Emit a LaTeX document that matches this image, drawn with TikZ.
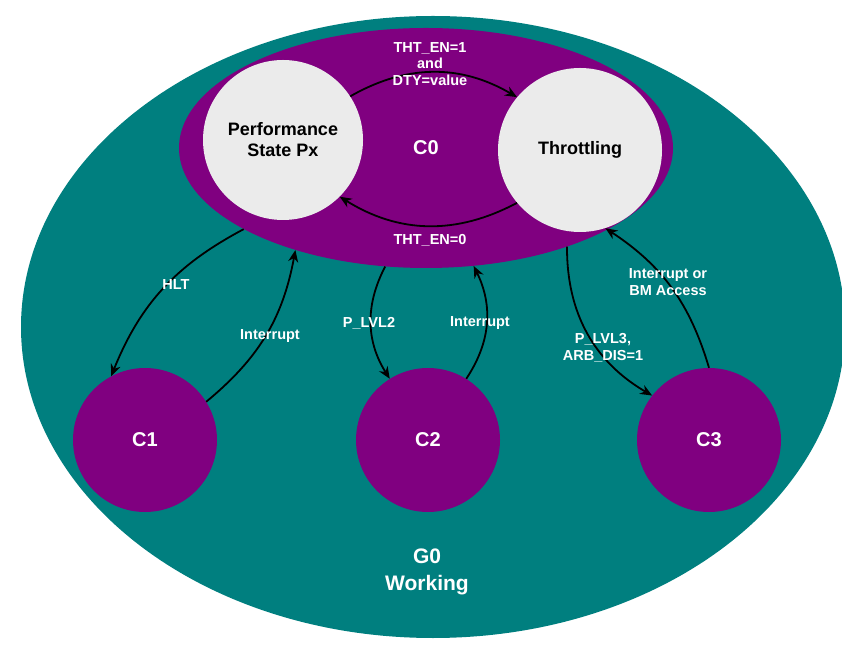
\documentclass[tikz,border=0pt]{standalone}
\usepackage{fontspec}
\setmainfont{Liberation Sans}
\usetikzlibrary{shapes.geometric,arrows.meta}
\definecolor{teal}{HTML}{007F7F}
\definecolor{purp}{HTML}{800080}
\definecolor{state}{HTML}{EBEBEB}
\tikzset{
  region/.style={ellipse, draw=none, inner sep=0pt},
  pstate/.style={circle, fill=state, minimum size=160pt, inner sep=0pt, align=center, font=\fontsize{18}{21}\selectfont\bfseries},
  cstate/.style={circle, fill=purp, minimum size=144pt, inner sep=0pt, text=white, font=\fontsize{20}{24}\selectfont\bfseries},
  trans/.style={draw=black, line width=1.8pt, -{Stealth[length=12pt,width=10pt]}},
  lab/.style={text=white, align=center, font=\fontsize{14.5}{16.5}\selectfont\bfseries},
}
\begin{document}
\begin{tikzpicture}[x=1pt,y=1pt]
  \useasboundingbox (0,0) rectangle (842,645);
  % regions
  \node[region, fill=teal, minimum width=824pt, minimum height=622pt] (g0) at (433,318) {};
  \node[region, fill=purp, minimum width=494pt, minimum height=240pt] (c0) at (426,497) {};
  \node[text=white, font=\fontsize{20}{24}\selectfont\bfseries] (c0lab) at (426,497) {C0};
  \node[lab, font=\fontsize{21}{27}\selectfont\bfseries] (g0lab) at (427,73) {G0\\Working};
  % states
  \node[pstate] (perf) at (283,505) {Performance\\State Px};
  \node[pstate, minimum size=164pt] (thr) at (580,495) {Throttling};
  \node[cstate] (c1) at (145,205) {C1};
  \node[cstate] (c2) at (428,205) {C2};
  \node[cstate] (c3) at (709,205) {C3};
  % transitions
  \draw[trans] (perf.33) to[bend left=30] (thr.140);
  \draw[trans] (thr.220) to[bend left=30] (perf.-45);
  \draw[trans] (c0.204) to[bend right=20] (c1.118);
  \draw[trans] (c1.32) to[bend right=20] (c0.218);
  \draw[trans] (c0.251) to[bend right=30] (c2.122);
  \draw[trans] (c2.58) to[bend right=30] (c0.292);
  \draw[trans] (c0.325) to[bend right=30] (c3.142);
  \draw[trans] (c3.90) to[bend right=20] (thr.288);
  % labels
  \node[lab] (l1) at (430,581) {THT\_EN=1\\and\\DTY=value};
  \node[lab] (l2) at (430,405) {THT\_EN=0};
  \node[lab] (l3) at (176,360) {HLT};
  \node[lab] (l4) at (270,309) {Interrupt};
  \node[lab] (l5) at (369,322) {P\_LVL2};
  \node[lab] (l6) at (480,322) {Interrupt};
  \node[lab] (l7) at (603,297) {P\_LVL3,\\ARB\_DIS=1};
  \node[lab] (l8) at (668,363) {Interrupt or\\BM Access};
\end{tikzpicture}
\end{document}
